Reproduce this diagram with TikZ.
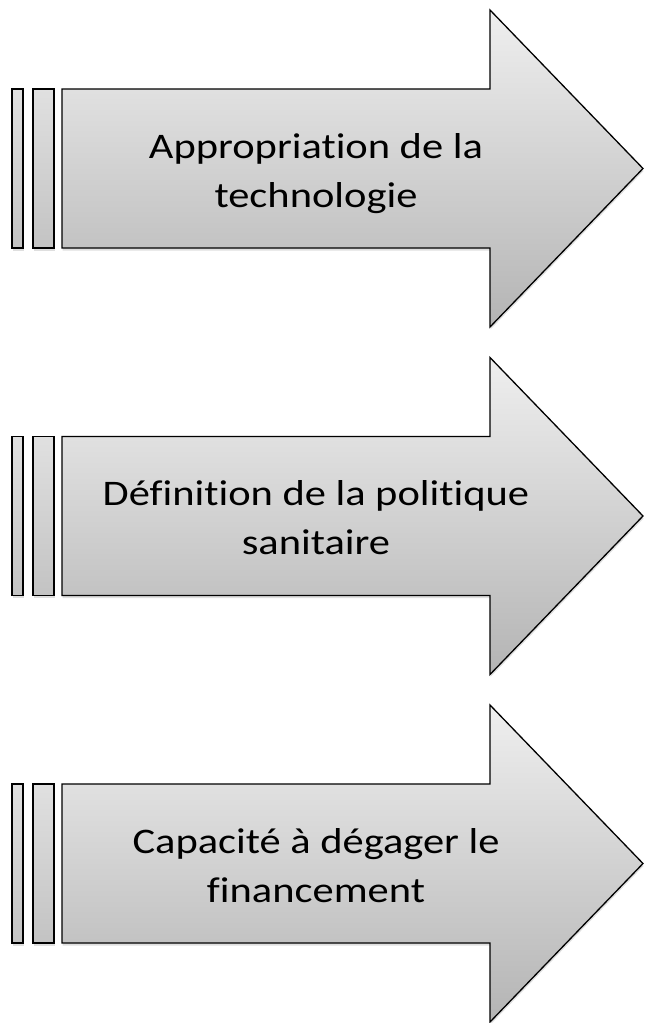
\documentclass[tikz,border=0pt]{standalone}
\usepackage{fontspec}
\setmainfont{Carlito}[Ligatures=NoCommon]
\usetikzlibrary{shadows}

\definecolor{arrowtop}{HTML}{EFEFEF}
\definecolor{arrowbot}{HTML}{B4B4B4}
\definecolor{bartop}{HTML}{E0E0E0}
\definecolor{barbot}{HTML}{C3C3C3}

\tikzset{
	pushbar/.style={draw=black, line width=1.6pt, top color=bartop, bottom color=barbot,
		drop shadow={opacity=0.25, shadow xshift=0.5pt, shadow yshift=-2.5pt}},
	pusharrow/.style={draw=black, line width=1.3pt, line join=miter, top color=arrowtop, bottom color=arrowbot,
		drop shadow={opacity=0.25, shadow xshift=0.5pt, shadow yshift=-2.5pt}},
	steplabel/.style={align=center, font=\fontsize{36}{49}\selectfont, inner sep=0pt,
		anchor=base, xscale=1.18, transform shape},
}

\begin{document}
\begin{tikzpicture}[x=1pt, y=-1pt]
		\useasboundingbox (0,0) rectangle (645,1023);
		\foreach \i/\nm/\txt in {
			0/appro/{Appropriation de la\\technologie},
			1/defin/{Définition de la politique\\sanitaire},
			2/capac/{Capacité à dégager le\\financement}}
		{
			\begin{scope}[yshift={-347.5*\i pt}]
				\draw[pushbar] (12,89) rectangle (23,248);
				\draw[pushbar] (33,89) rectangle (54,248);
				\draw[pusharrow]
				(62,89) -- (490,89) -- (490,10) -- (643,168.5)
				-- (490,327) -- (490,248) -- (62,248) -- cycle;
				% base anchor sits on the last line
				\node[steplabel] (\nm) at (316,207) {\txt};
			\end{scope}
		}
		\end{tikzpicture}
\end{document}
